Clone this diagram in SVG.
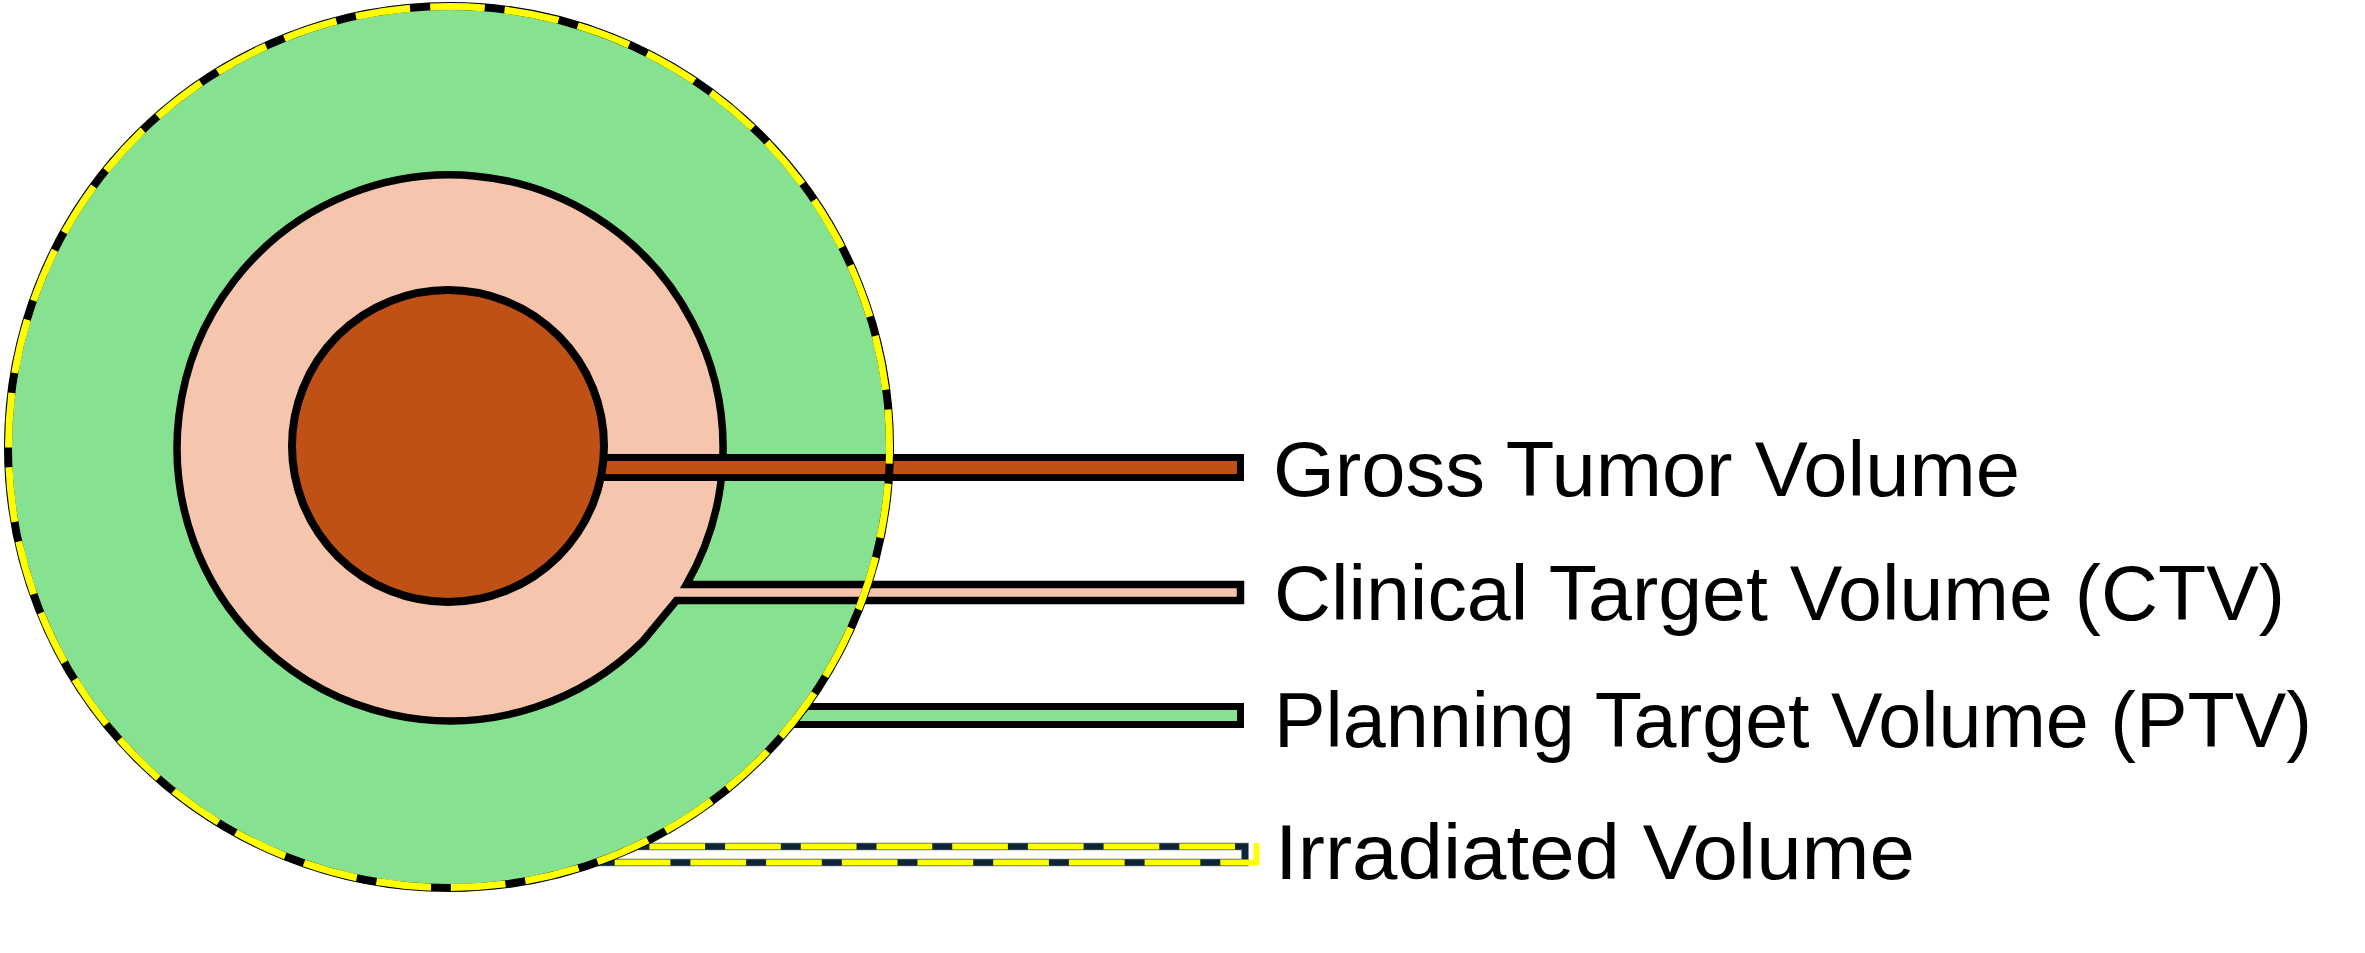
<svg xmlns="http://www.w3.org/2000/svg" width="2365" height="953" viewBox="0 0 2365 953">
  <style>
    .outline { stroke: #000000; stroke-linejoin: miter; }
    .gtv { fill: #BF5016; }
    .ctv { fill: #F5C6AD; }
    .ptv { fill: #86E291; }
    .label { font-family: "Liberation Sans", Arial, sans-serif; font-size: 77px; fill: #000000; }
    .irr-dark { fill: none; stroke: #0D2535; stroke-width: 6; }
    .irr-edge { fill: none; stroke: #5F6B70; stroke-width: 7.5; }
    .irr-yellow { fill: none; stroke: #FFFF00; stroke-width: 6; stroke-dasharray: 55.7 20; }
  </style>
  <rect x="0" y="0" width="2365" height="953" fill="#FFFFFF"/>

  <g id="node-ptv">
    <rect class="ptv outline" x="770" y="706.5" width="470.5" height="18" stroke-width="7"/>
    <circle class="ptv" cx="449" cy="447" r="441"/>
  </g>

  <g id="node-ctv">
    <path class="ctv outline" stroke-width="7.5" d="M 686.4 584.5 H 1240.5 V 600.5 H 676.4 L 643 641 A 273 273 0 1 1 686.4 584.5 Z"/>
  </g>

  <g id="node-gtv">
    <rect class="gtv outline" x="590" y="457.5" width="650.5" height="20" stroke-width="7"/>
    <circle class="gtv outline" cx="448" cy="446" r="156" stroke-width="8"/>
  </g>

  <g id="node-irradiated">
    <path class="irr-edge" d="M 636 846.5 H 1245 V 862.5 H 596"/>
    <path class="irr-dark" d="M 636 846.5 H 1245 V 862.5 H 596"/>
    <path class="irr-yellow" d="M 1235 846.5 H 640"/>
    <path class="irr-yellow" d="M 1256.5 843 V 862.5 H 598"/>
    <circle cx="449" cy="447" r="441" fill="none" stroke="#000000" stroke-width="8"/>
    <circle cx="449" cy="447" r="440.5" fill="none" stroke="#FFFF00" stroke-width="7" stroke-dasharray="54.8 20" stroke-dashoffset="38.1"/>
  </g>

  <g id="connectors"></g>

  <g id="labels">
    <text class="label" x="1273" y="496" textLength="747" lengthAdjust="spacingAndGlyphs">Gross Tumor Volume</text>
    <text class="label" x="1274" y="620" textLength="1011" lengthAdjust="spacingAndGlyphs">Clinical Target Volume (CTV)</text>
    <text class="label" x="1274" y="747" textLength="1038" lengthAdjust="spacingAndGlyphs">Planning Target Volume (PTV)</text>
    <text class="label" x="1275" y="879" textLength="640" lengthAdjust="spacingAndGlyphs">Irradiated Volume</text>
  </g>
</svg>
